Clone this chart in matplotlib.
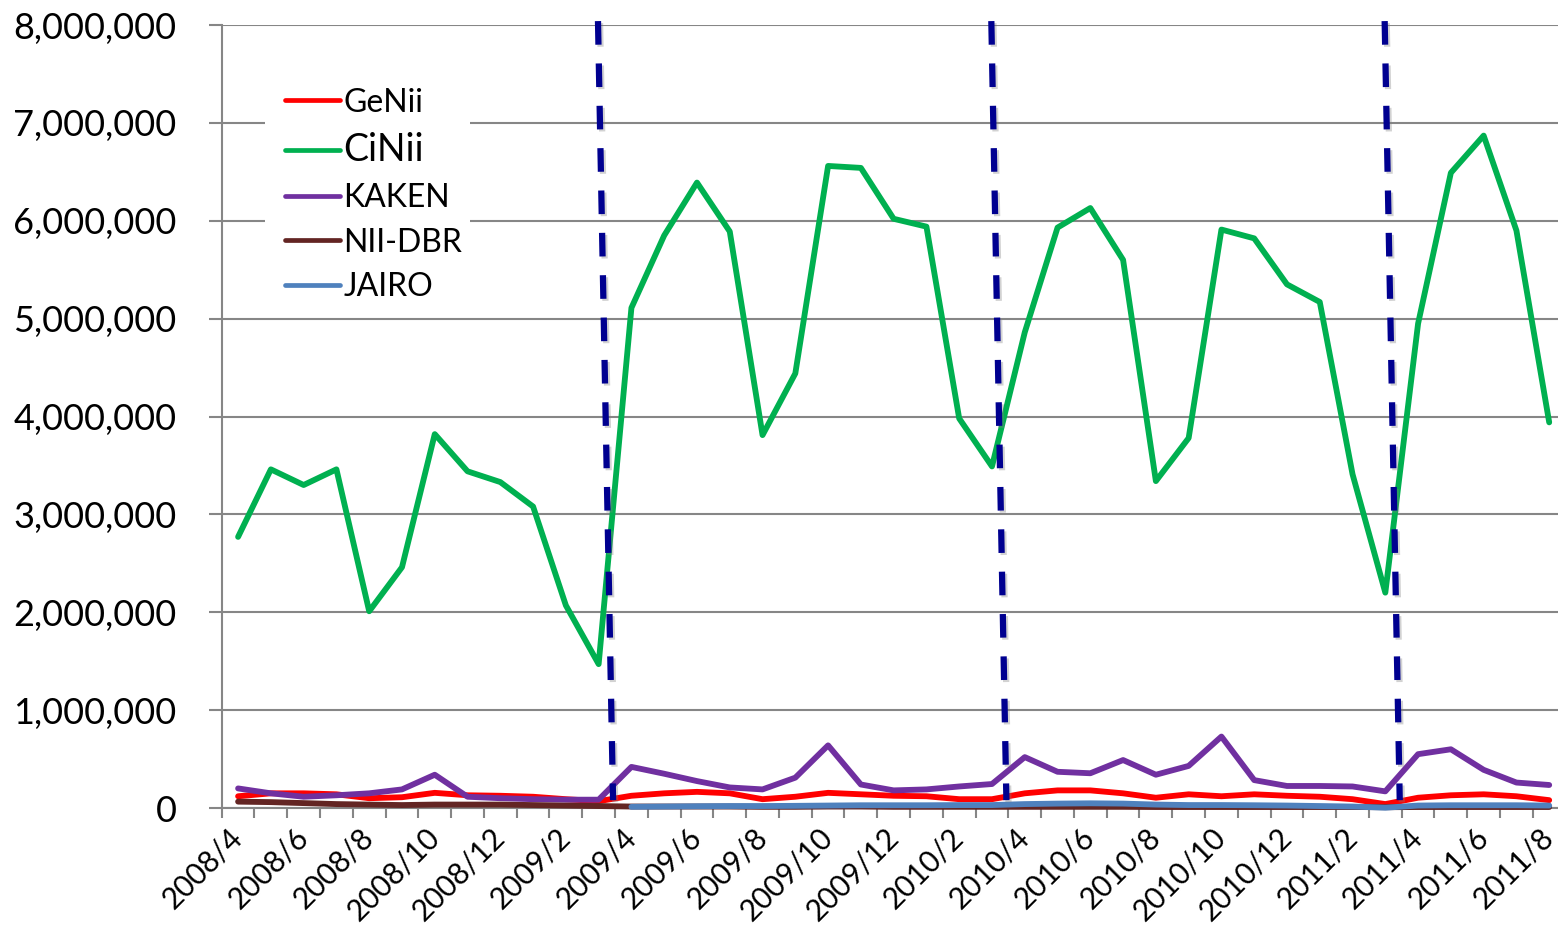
import matplotlib
matplotlib.use("Agg")
import matplotlib.pyplot as plt
import matplotlib.patheffects as pe
from matplotlib.patches import Rectangle
from matplotlib.ticker import FuncFormatter

plt.rcParams['font.family'] = ['Lato', 'DejaVu Sans']
plt.rcParams['lines.scale_dashes'] = False

# ---- data ----
months = []
for y in range(2008, 2012):
    for m in range(1, 13):
        if (y == 2008 and m < 4) or (y == 2011 and m > 8):
            continue
        months.append(f"{y}/{m}")

genii = [0.12, 0.15, 0.15, 0.14, 0.10, 0.11, 0.155, 0.13, 0.125, 0.115, 0.09, 0.07,
         0.125, 0.15, 0.165, 0.15, 0.09, 0.115, 0.155, 0.14, 0.125, 0.12, 0.09, 0.09,
         0.15, 0.18, 0.18, 0.15, 0.105, 0.14, 0.12, 0.14, 0.125, 0.115, 0.09, 0.04,
         0.105, 0.13, 0.14, 0.12, 0.08]
cinii = [2.77, 3.46, 3.30, 3.46, 2.01, 2.46, 3.82, 3.44, 3.33, 3.08, 2.07, 1.47,
         5.11, 5.85, 6.39, 5.89, 3.81, 4.44, 6.56, 6.54, 6.02, 5.94, 3.98, 3.49,
         4.86, 5.93, 6.13, 5.60, 3.34, 3.78, 5.91, 5.82, 5.35, 5.17, 3.41, 2.20,
         4.95, 6.49, 6.87, 5.90, 3.94]
kaken = [0.20, 0.15, 0.115, 0.13, 0.15, 0.19, 0.34, 0.115, 0.10, 0.09, 0.085, 0.085,
         0.42, 0.35, 0.275, 0.21, 0.19, 0.31, 0.64, 0.24, 0.18, 0.19, 0.22, 0.245,
         0.52, 0.37, 0.355, 0.49, 0.34, 0.43, 0.73, 0.285, 0.225, 0.225, 0.22, 0.17,
         0.55, 0.60, 0.39, 0.26, 0.235]
niidbr = [0.065, 0.06, 0.05, 0.04, 0.035, 0.03, 0.035, 0.035, 0.035, 0.03, 0.025, 0.02,
          0.015, 0.015, 0.015, 0.015, 0.012, 0.012, 0.015, 0.015, 0.012, 0.012, 0.012, 0.012,
          0.012, 0.012, 0.012, 0.012, 0.01, 0.01, 0.01, 0.01, 0.01, 0.01, 0.01, 0.008,
          0.01, 0.01, 0.01, 0.01, 0.01]
jairo = [None] * 12 + [0.012, 0.015, 0.018, 0.02, 0.02, 0.022, 0.025, 0.028, 0.028, 0.028, 0.03, 0.03,
         0.04, 0.045, 0.048, 0.045, 0.035, 0.03, 0.03, 0.028, 0.025, 0.02, 0.015, 0.003,
         0.025, 0.028, 0.028, 0.028, 0.025]

series = [("GeNii", genii, "#FF0000"),
          ("CiNii", cinii, "#00B050"),
          ("KAKEN", kaken, "#7030A0"),
          ("NII-DBR", niidbr, "#632523"),
          ("JAIRO", jairo, "#4F81BD")]

fiscal_year_starts = ["2009/4", "2010/4", "2011/4"]
y_ticks = [0, 1, 2, 3, 4, 5, 6, 7, 8]  # millions

# ---- figure ----
W, H = 1558, 926
fig = plt.figure(figsize=(W / 100, H / 100), dpi=100)
ax = fig.add_axes([221.7 / W, 1 - 808 / H, (1565.6 - 221.7) / W, (808 - 25) / H])

x = list(range(len(months)))
handles = []
for name, vals, col in series:
    xs = [xi for xi, v in zip(x, vals) if v is not None]
    ys = [v * 1e6 for v in vals if v is not None]
    h, = ax.plot(xs, ys, color=col, lw=4.2, solid_joinstyle='round',
                 solid_capstyle='round', label=name, zorder=3, clip_on=False)
    handles.append(h)

ax.set_xlim(-0.5, len(months) - 0.5)
ax.set_ylim(0, 8e6)
ax.set_yticks([v * 1e6 for v in y_ticks])
ax.yaxis.set_major_formatter(FuncFormatter(lambda v, p: f"{int(v):,}"))
ax.grid(axis='y', color='#868686', lw=1.5)
ax.set_axisbelow(True)

for s in ['top', 'right']:
    ax.spines[s].set_visible(False)
for s in ['left', 'bottom']:
    ax.spines[s].set_color('#868686')
    ax.spines[s].set_linewidth(1.5)

ax.tick_params(axis='y', which='major', length=9.4, width=1.5, color='#868686',
               labelsize=26, pad=23, labelcolor='black')
# category boundaries as major ticks
ax.set_xticks([i - 0.5 for i in range(len(months) + 1)])
ax.set_xticklabels([])
ax.tick_params(axis='x', which='major', length=7.2, width=1.5, color='#868686')
# labels at every other category center
lab_idx = list(range(0, len(months), 2))
ax.set_xticks(lab_idx, minor=True)
ax.set_xticklabels([months[i] for i in lab_idx], minor=True)
ax.tick_params(axis='x', which='minor', length=0, labelsize=21.5, pad=18)
for t in ax.get_xticklabels(minor=True):
    t.set_rotation(45)
    t.set_ha('right')
    t.set_va('center')
    t.set_rotation_mode('anchor')

# fiscal year dashed separators (slightly leaning, as drawn in original)
for fy in fiscal_year_starts:
    b = months.index(fy) - 0.5
    ax.plot([b - 0.52, b - 0.06], [8.04e6, 0.08e6], color='#000090', lw=4.5,
            ls=(0, (17, 13.5)), dash_capstyle='butt', zorder=4, clip_on=False,
            path_effects=[pe.SimpleLineShadow(offset=(1.5, -1.5), shadow_color='#808080', alpha=0.35),
                          pe.Normal()])

# legend with white background box
fig.patches.append(Rectangle((265 / W, 1 - 310 / H), (470 - 265) / W, (310 - 77) / H,
                             transform=fig.transFigure, facecolor='white', edgecolor='none',
                             zorder=2))
leg = fig.legend(handles=handles, loc='upper left', bbox_to_anchor=(259 / W, 1 - 62 / H),
                 frameon=False, fontsize=23, handlelength=1.72, handletextpad=0.12,
                 labelspacing=0.46, borderpad=0.3)
leg.get_texts()[1].set_fontsize(27)
for lh in leg.get_lines():
    lh.set_linewidth(3.4)
leg.set_zorder(5)

fig.savefig("out.png", dpi=100)
